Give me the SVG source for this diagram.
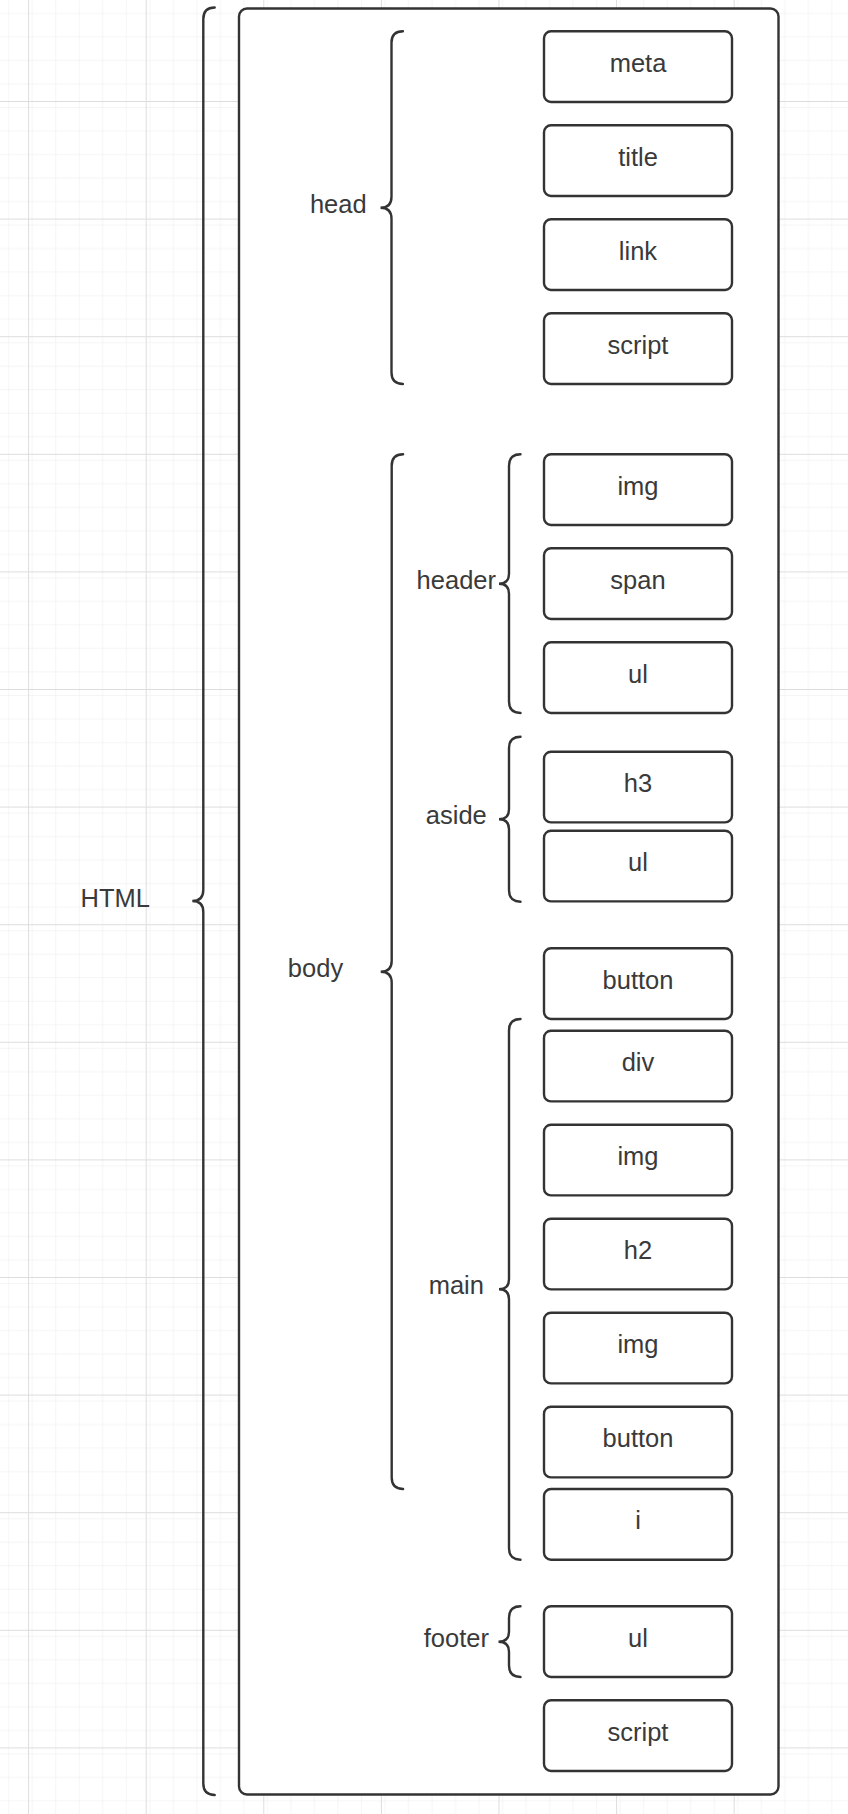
<svg xmlns="http://www.w3.org/2000/svg" width="848" height="1814" viewBox="0 0 848 1814">
<defs>
<pattern id="minor" patternUnits="userSpaceOnUse" x="28.1" y="101" width="23.52" height="23.52">
<path d="M23.52 0 V23.52 M0 23.52 H23.52" fill="none" stroke="#ececec" stroke-width="1"/>
</pattern>
<pattern id="major" patternUnits="userSpaceOnUse" x="28.1" y="101" width="117.6" height="117.6">
<rect width="117.6" height="117.6" fill="url(#minor)"/>
<path d="M0.5 0 V117.6 M0 0.5 H117.6" fill="none" stroke="#dddddd" stroke-width="1"/>
</pattern>
<style>
.box{fill:#ffffff;stroke:#333333;stroke-width:2.4}
.brace{fill:none;stroke:#333333;stroke-width:2.4;stroke-linecap:round}
.t{font-family:"Liberation Sans",Arial,sans-serif;font-size:25.5px;fill:#3a3a3a;text-anchor:middle}
</style>
</defs>
<rect x="0" y="0" width="848" height="1814" fill="#ffffff"/>
<rect x="0" y="0" width="848" height="1814" fill="url(#major)"/>

<g id="html-container">
<rect x="239" y="8.5" width="539.5" height="1786" rx="8" fill="#ffffff" stroke="#333333" stroke-width="2.4"/>
</g>

<g id="connectors">
<g id="brace-html"><path class="brace" d="M214.7,7.5 Q203.3,7.5 203.3,18.9 L203.3,890 Q203.3,901 192.3,901 Q203.3,901 203.3,912 L203.3,1783.6 Q203.3,1795 214.7,1795"/></g>
<g id="brace-head"><path class="brace" d="M402.9,31.3 Q391.5,31.3 391.5,42.7 L391.5,196.7 Q391.5,207.7 380.5,207.7 Q391.5,207.7 391.5,218.7 L391.5,372.6 Q391.5,384 402.9,384"/></g>
<g id="brace-body"><path class="brace" d="M403.1,454.3 Q391.7,454.3 391.7,465.7 L391.7,960.7 Q391.7,971.7 380.7,971.7 Q391.7,971.7 391.7,982.7 L391.7,1477.6 Q391.7,1489 403.1,1489"/></g>
<g id="brace-header"><path class="brace" d="M520.5,454.3 Q509,454.3 509,465.7 L509,573.7 Q509,583.7 499,583.7 Q509,583.7 509,593.7 L509,701.6 Q509,713 520.5,713"/></g>
<g id="brace-aside"><path class="brace" d="M520.5,736.7 Q509,736.7 509,748.1 L509,809.2 Q509,819.2 499,819.2 Q509,819.2 509,829.2 L509,890.3 Q509,901.7 520.5,901.7"/></g>
<g id="brace-main"><path class="brace" d="M520.5,1019 Q509,1019 509,1030.4 L509,1279.3 Q509,1289.3 499,1289.3 Q509,1289.3 509,1299.3 L509,1548.3 Q509,1559.7 520.5,1559.7"/></g>
<g id="brace-footer"><path class="brace" d="M520.5,1606.3 Q509,1606.3 509,1617.7 L509,1631.7 Q509,1641.7 498.5,1641.7 Q509,1641.7 509,1651.7 L509,1665.6 Q509,1677 520.5,1677"/></g>
</g>

<g id="label-html"><text class="t" x="115.3" y="907.3">HTML</text></g>
<g id="label-head"><text class="t" x="338.3" y="213.3">head</text></g>
<g id="label-body"><text class="t" x="315.5" y="976.7">body</text></g>
<g id="label-header"><text class="t" x="456.3" y="589.3">header</text></g>
<g id="label-aside"><text class="t" x="456.3" y="824.3">aside</text></g>
<g id="label-main"><text class="t" x="456.3" y="1294.3">main</text></g>
<g id="label-footer"><text class="t" x="456.3" y="1646.7">footer</text></g>

<g id="node-meta"><rect class="box" x="544" y="31.3" width="188" height="70.7" rx="7"/><text class="t" x="638" y="71.7">meta</text></g>
<g id="node-title"><rect class="box" x="544" y="125.3" width="188" height="70.7" rx="7"/><text class="t" x="638" y="165.7">title</text></g>
<g id="node-link"><rect class="box" x="544" y="219.3" width="188" height="70.7" rx="7"/><text class="t" x="638" y="259.7">link</text></g>
<g id="node-script-head"><rect class="box" x="544" y="313.3" width="188" height="70.7" rx="7"/><text class="t" x="638" y="353.7">script</text></g>
<g id="node-img-header"><rect class="box" x="544" y="454.3" width="188" height="70.7" rx="7"/><text class="t" x="638" y="494.7">img</text></g>
<g id="node-span"><rect class="box" x="544" y="548.3" width="188" height="70.7" rx="7"/><text class="t" x="638" y="588.7">span</text></g>
<g id="node-ul-header"><rect class="box" x="544" y="642.3" width="188" height="70.7" rx="7"/><text class="t" x="638" y="682.7">ul</text></g>
<g id="node-h3"><rect class="box" x="544" y="751.7" width="188" height="70.7" rx="7"/><text class="t" x="638" y="792.1">h3</text></g>
<g id="node-ul-aside"><rect class="box" x="544" y="830.7" width="188" height="70.7" rx="7"/><text class="t" x="638" y="871.1">ul</text></g>
<g id="node-button-body"><rect class="box" x="544" y="948.3" width="188" height="70.7" rx="7"/><text class="t" x="638" y="988.7">button</text></g>
<g id="node-div"><rect class="box" x="544" y="1030.7" width="188" height="70.7" rx="7"/><text class="t" x="638" y="1071.1">div</text></g>
<g id="node-img-main-1"><rect class="box" x="544" y="1124.7" width="188" height="70.7" rx="7"/><text class="t" x="638" y="1165.1">img</text></g>
<g id="node-h2"><rect class="box" x="544" y="1218.7" width="188" height="70.7" rx="7"/><text class="t" x="638" y="1259.1">h2</text></g>
<g id="node-img-main-2"><rect class="box" x="544" y="1312.7" width="188" height="70.7" rx="7"/><text class="t" x="638" y="1353.1">img</text></g>
<g id="node-button-main"><rect class="box" x="544" y="1406.7" width="188" height="70.7" rx="7"/><text class="t" x="638" y="1447.1">button</text></g>
<g id="node-i"><rect class="box" x="544" y="1489" width="188" height="70.7" rx="7"/><text class="t" x="638" y="1529.4">i</text></g>
<g id="node-ul-footer"><rect class="box" x="544" y="1606.3" width="188" height="70.7" rx="7"/><text class="t" x="638" y="1646.7">ul</text></g>
<g id="node-script-body"><rect class="box" x="544" y="1700.3" width="188" height="70.7" rx="7"/><text class="t" x="638" y="1740.7">script</text></g>
</svg>
